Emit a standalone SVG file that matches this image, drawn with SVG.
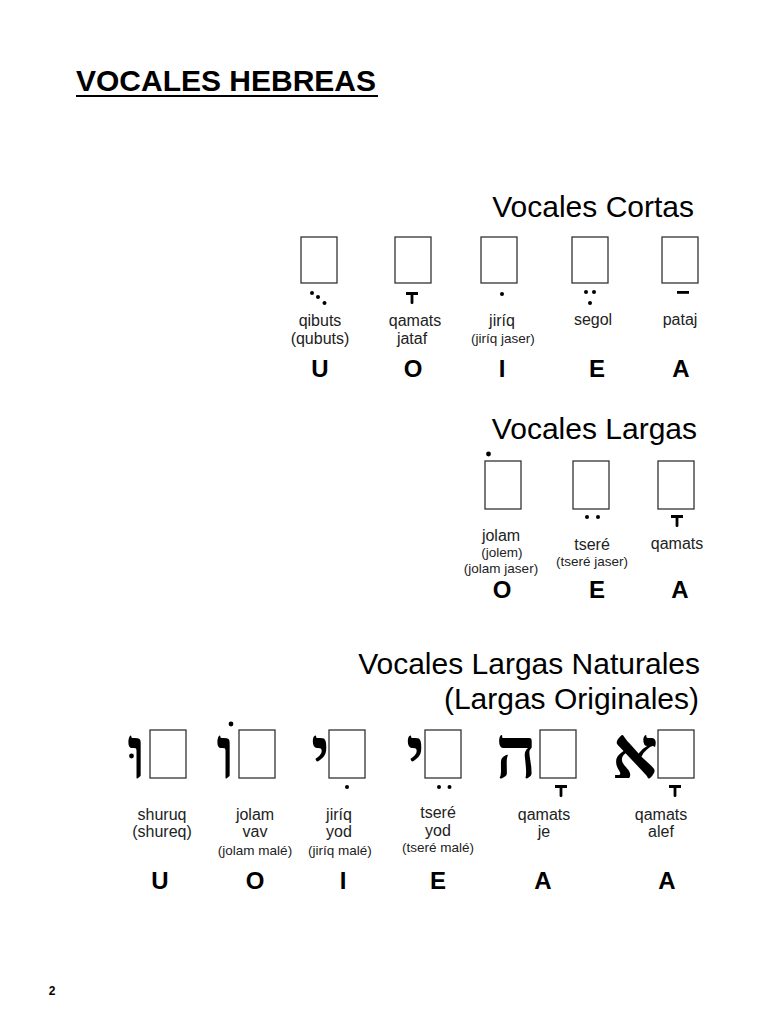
<svg xmlns="http://www.w3.org/2000/svg" xmlns:xlink="http://www.w3.org/1999/xlink" width="768" height="1024" viewBox="0 0 768 1024">
  <style>
    .bg { fill: #ffffff; }
    .box { fill: #ffffff; stroke: #333333; stroke-width: 1.3; }
    .dot { fill: #000000; }
    .title { font-family: "Liberation Sans", Arial, sans-serif; font-weight: bold; font-size: 30px; fill: #000; }
    .head { font-family: "Liberation Sans", Arial, sans-serif; font-size: 30px; fill: #000; text-anchor: end; }
    .lbl { font-family: "Liberation Sans", Arial, sans-serif; font-size: 16px; fill: #222; text-anchor: middle; }
    .sm { font-family: "Liberation Sans", Arial, sans-serif; font-size: 13.5px; fill: #222; text-anchor: middle; }
    .vow { font-family: "Liberation Sans", Arial, sans-serif; font-weight: bold; font-size: 24px; fill: #000; text-anchor: middle; }
    .heb { font-family: "Liberation Serif", "DejaVu Serif", "DejaVu Sans", serif; font-weight: bold; font-size: 72px; fill: #000; text-anchor: end; }
    .pg { font-family: "Liberation Sans", Arial, sans-serif; font-weight: bold; font-size: 12px; fill: #000; text-anchor: middle; }
  </style>
  <defs>
    <g id="qamatsMark">
      <rect x="-6" y="0" width="12" height="3" fill="#000"/>
      <rect x="-1.4" y="0" width="2.8" height="12" rx="1.2" fill="#000"/>
    </g>
  </defs>
  <rect class="bg" x="0" y="0" width="768" height="1024"/>

  <g id="title">
    <text class="title" x="76" y="91">VOCALES HEBREAS</text>
    <rect x="76" y="95" width="302" height="2" fill="#000"/>
  </g>

  <!-- Vocales Cortas -->
  <g id="cortas">
    <text class="head" x="694" y="217">Vocales Cortas</text>
    <g id="qibuts">
      <rect class="box" x="301" y="237" width="36" height="46"/>
      <circle class="dot" cx="312" cy="293" r="2"/>
      <circle class="dot" cx="318" cy="297" r="2"/>
      <circle class="dot" cx="324.5" cy="303" r="2"/>
      <text class="lbl" x="320" y="326">qibuts</text>
      <text class="lbl" x="320" y="344">(qubuts)</text>
      <text class="vow" x="320" y="377">U</text>
    </g>
    <g id="qamats-jataf">
      <rect class="box" x="395" y="237" width="36" height="46"/>
      <use xlink:href="#qamatsMark" x="412" y="292"/>
      <text class="lbl" x="415" y="326">qamats</text>
      <text class="lbl" x="412" y="344">jataf</text>
      <text class="vow" x="413" y="377">O</text>
    </g>
    <g id="jiriq">
      <rect class="box" x="481" y="237" width="36" height="46"/>
      <circle class="dot" cx="502" cy="294" r="2"/>
      <text class="lbl" x="502" y="326">jiríq</text>
      <text class="sm" x="503" y="343">(jiríq jaser)</text>
      <text class="vow" x="502" y="377">I</text>
    </g>
    <g id="segol">
      <rect class="box" x="572" y="237" width="36" height="46"/>
      <circle class="dot" cx="586" cy="292" r="2"/>
      <circle class="dot" cx="594" cy="292" r="2"/>
      <circle class="dot" cx="590" cy="303" r="2"/>
      <text class="lbl" x="593" y="325">segol</text>
      <text class="vow" x="597" y="377">E</text>
    </g>
    <g id="pataj">
      <rect class="box" x="662" y="237" width="36" height="46"/>
      <rect x="677" y="291" width="12" height="2.8" fill="#000"/>
      <text class="lbl" x="680" y="325">pataj</text>
      <text class="vow" x="681" y="377">A</text>
    </g>
  </g>

  <!-- Vocales Largas -->
  <g id="largas">
    <text class="head" x="697" y="439">Vocales Largas</text>
    <g id="jolam">
      <rect class="box" x="485" y="461" width="36" height="48"/>
      <circle class="dot" cx="488.5" cy="454" r="2.4"/>
      <text class="lbl" x="501" y="541">jolam</text>
      <text class="sm" x="502" y="557">(jolem)</text>
      <text class="sm" x="501" y="573">(jolam jaser)</text>
      <text class="vow" x="502" y="598">O</text>
    </g>
    <g id="tsere">
      <rect class="box" x="573" y="461" width="36" height="48"/>
      <circle class="dot" cx="587" cy="517" r="2"/>
      <circle class="dot" cx="598" cy="517" r="2"/>
      <text class="lbl" x="592" y="550">tseré</text>
      <text class="sm" x="592" y="566">(tseré jaser)</text>
      <text class="vow" x="597" y="598">E</text>
    </g>
    <g id="qamats">
      <rect class="box" x="658" y="461" width="36" height="48"/>
      <use xlink:href="#qamatsMark" x="677" y="515"/>
      <text class="lbl" x="677" y="549">qamats</text>
      <text class="vow" x="680" y="598">A</text>
    </g>
  </g>

  <!-- Vocales Largas Naturales -->
  <g id="naturales">
    <text class="head" x="700" y="674">Vocales Largas Naturales</text>
    <text class="head" x="699" y="709">(Largas Originales)</text>
    <g id="shuruq">
      <text class="heb" x="146" y="778">ו</text>
      <circle class="dot" cx="131.5" cy="756" r="2.4"/>
      <rect class="box" x="150" y="730" width="36" height="48"/>
      <text class="lbl" x="162" y="820">shuruq</text>
      <text class="lbl" x="162" y="837">(shureq)</text>
      <text class="vow" x="160" y="889">U</text>
    </g>
    <g id="jolam-vav">
      <text class="heb" x="235" y="778">ו</text>
      <circle class="dot" cx="231" cy="724" r="2.4"/>
      <rect class="box" x="239" y="730" width="36" height="48"/>
      <text class="lbl" x="255" y="820">jolam</text>
      <text class="lbl" x="255" y="837">vav</text>
      <text class="sm" x="255" y="855">(jolam malé)</text>
      <text class="vow" x="255" y="889">O</text>
    </g>
    <g id="jiriq-yod">
      <text class="heb" x="330" y="778">י</text>
      <rect class="box" x="329" y="730" width="36" height="48"/>
      <circle class="dot" cx="347" cy="787" r="2"/>
      <text class="lbl" x="339" y="820">jiríq</text>
      <text class="lbl" x="339" y="837">yod</text>
      <text class="sm" x="340" y="855">(jiríq malé)</text>
      <text class="vow" x="343" y="889">I</text>
    </g>
    <g id="tsere-yod">
      <text class="heb" x="425" y="778">י</text>
      <rect class="box" x="425" y="730" width="36" height="48"/>
      <circle class="dot" cx="439" cy="787" r="2"/>
      <circle class="dot" cx="449.5" cy="787" r="2"/>
      <text class="lbl" x="438" y="818">tseré</text>
      <text class="lbl" x="438" y="836">yod</text>
      <text class="sm" x="438" y="852">(tseré malé)</text>
      <text class="vow" x="438" y="889">E</text>
    </g>
    <g id="qamats-je">
      <text class="heb" x="537" y="778">ה</text>
      <rect class="box" x="540" y="730" width="36" height="48"/>
      <use xlink:href="#qamatsMark" x="561" y="785"/>
      <text class="lbl" x="544" y="820">qamats</text>
      <text class="lbl" x="544" y="837">je</text>
      <text class="vow" x="543" y="889">A</text>
    </g>
    <g id="qamats-alef">
      <text class="heb" x="658" y="778">א</text>
      <rect class="box" x="658" y="730" width="36" height="48"/>
      <use xlink:href="#qamatsMark" x="675" y="785"/>
      <text class="lbl" x="661" y="820">qamats</text>
      <text class="lbl" x="661" y="837">alef</text>
      <text class="vow" x="667" y="889">A</text>
    </g>
  </g>

  <g id="page-number">
    <text class="pg" x="52" y="995">2</text>
  </g>
</svg>
